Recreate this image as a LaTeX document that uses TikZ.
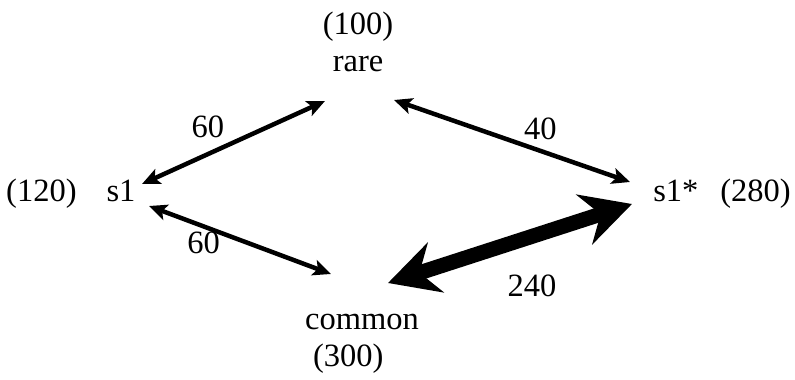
\documentclass[tikz,border=0pt]{standalone}
\usepackage{fontspec}
\setmainfont{Liberation Serif}
\usetikzlibrary{arrows.meta}

\begin{document}
\begin{tikzpicture}[
  x=1pt, y=-1pt,
  every node/.style={font=\fontsize{32.5}{37}\selectfont, inner sep=0pt},
  state/.style={align=center},
  flux/.style={line width=4.5pt, {Stealth[length=18pt,width=16pt,inset=4pt]}-{Stealth[length=18pt,width=16pt,inset=4pt]}},
  bigflux/.style={line width=15pt, {Stealth[length=50pt,width=52pt,inset=17pt]}-{Stealth[length=50pt,width=52pt,inset=17pt]}},
  count/.style={font=\fontsize{32.5}{37}\selectfont}
]
\useasboundingbox (0,0) rectangle (795,380);

% states with their counts
\node[state] (rare) at (358,42) {(100)\\rare};
\node[anchor=west] (s1) at (6,194) {(120)\hspace{30pt}s1};
\node[anchor=east] (s1star) at (791,194) {s1*\hspace{22pt}(280)};
\node[align=left] (common) at (362,344) {common\\\hspace{8pt}(300)};

% arrow ends
\coordinate (s1top) at (142,184);
\coordinate (s1bot) at (149,206);
\coordinate (rareleft) at (325,101);
\coordinate (rareright) at (394,100);
\coordinate (startop) at (630,182);
\coordinate (starbot) at (632,204);
\coordinate (comleft) at (331,274);
\coordinate (comright) at (388,283);

% exchanges between the states
\draw[flux] (s1top) -- node[count, pos=.36, above=14pt] {60} (rareleft);
\draw[flux] (rareright) -- node[count, pos=.62, above=9pt] {40} (startop);
\draw[flux] (s1bot) -- node[count, pos=.3, below=3pt] {60} (comleft);
\draw[bigflux] (comright) -- node[count, pos=.59, below=31pt] {240} (starbot);
\end{tikzpicture}
\end{document}
